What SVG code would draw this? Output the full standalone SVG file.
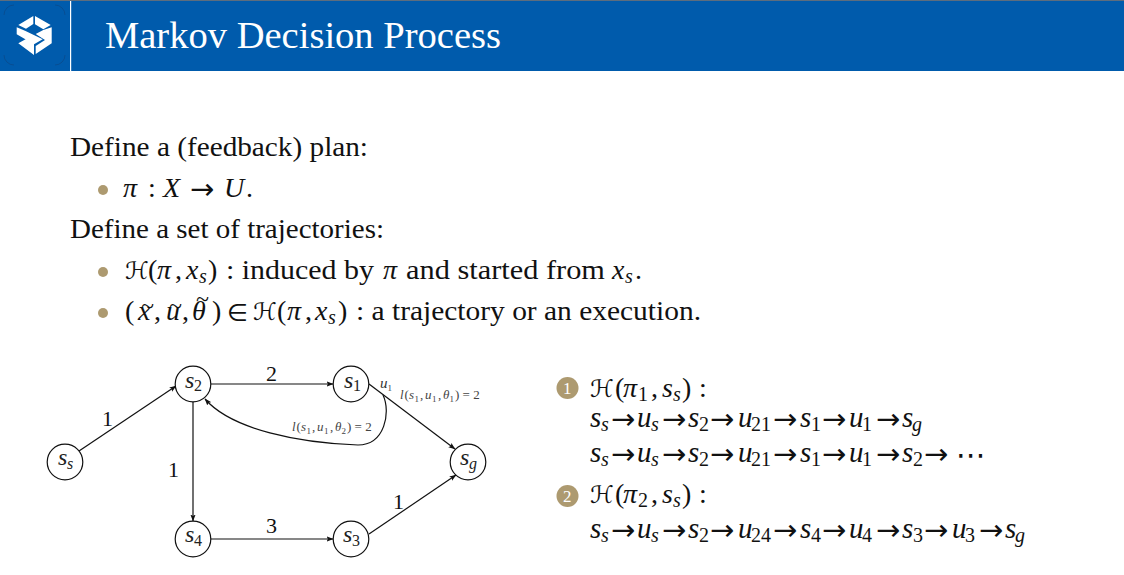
<svg xmlns="http://www.w3.org/2000/svg" width="1124" height="575" viewBox="0 0 1124 575">
<style>
text{font-family:"Liberation Serif","DejaVu Serif",serif;fill:#111}
.b{font-size:28px}
.m{font-size:28px;font-style:italic}
.r{font-size:28px}
.sb{font-size:20px;font-style:italic}
.sn{font-size:20px}
.c{font-family:"DejaVu Sans","Liberation Serif",sans-serif;font-size:24px}
.q{font-size:29px;font-style:italic}
.a{font-family:"DejaVu Sans",sans-serif;font-size:29px;fill:#111}
.dots{font-family:"DejaVu Sans",sans-serif;font-size:30px}
.til{font-size:24px}
.n{font-size:24px;font-style:italic;fill:#222}
.ns{font-size:16px;font-style:italic;fill:#222}
.nn{font-size:16px;fill:#222}
.w{font-size:22px}
.l{font-size:13px;fill:#444}
.li{font-size:13px;font-style:italic;fill:#444}
.ls{font-size:9px;fill:#444}
.node{fill:#fff;stroke:#111;stroke-width:1.2}
.edge{fill:none;stroke:#111;stroke-width:1.2;marker-end:url(#ah)}
.bul{fill:#ad9a70}
</style>
<defs>
<marker id="ah" markerWidth="8" markerHeight="6" refX="6.5" refY="3" orient="auto" markerUnits="userSpaceOnUse"><path d="M0 0.4L7 3L0 5.6L1.4 3Z" fill="#111"/></marker>
</defs>
<rect width="1124" height="575" fill="#fff"/>
<g id="header">
<rect width="1124" height="71" fill="#005bac"/>
<rect width="1124" height="1" fill="#5d6d7e"/>
<rect x="70" y="1" width="1.2" height="70" fill="#fff"/>
<path d="M4 15A10 10 0 0 1 14 5M55 5A10 10 0 0 1 65 15M65 55A10 10 0 0 1 55 65M14 65A10 10 0 0 1 4 55" fill="none" stroke="#0a4a8c" stroke-width="0.8"/>
<path fill="#fff" d="M33.300 16V24L26 28.700L18.300 25ZM35 16L50.700 25L43.300 29.300L35 24.300ZM16.700 27.300L25 30.700L42.700 39.300L34 44.300L16.700 34.300ZM51.700 27.300V43.300L35.700 54V46L45 40L35.700 34L43.300 30ZM18.300 43.300L26 39L34 44.300V55Z"/>
<text x="105" y="47.500" style="font-size:37px;fill:#fff" textLength="396" lengthAdjust="spacingAndGlyphs">Markov Decision Process</text>
</g>
<g id="body">
<text class="b" x="70" y="156" textLength="298" lengthAdjust="spacingAndGlyphs">Define a (feedback) plan:</text>
<circle class="bul" cx="103" cy="190" r="5"/>
<text class="m" x="123" y="197">π</text><text class="r" x="148" y="197">:</text><text class="m" x="163" y="197">X</text><text class="a" x="190" y="198.500">→</text><text class="m" x="224" y="197">U</text><text class="r" x="246" y="197">.</text>
<text class="b" x="70" y="238" textLength="314" lengthAdjust="spacingAndGlyphs">Define a set of trajectories:</text>
<circle class="bul" cx="103" cy="272" r="5"/>
<text class="c" x="125" y="279">ℋ</text>
<text class="r" x="148" y="279">(</text>
<text class="m" x="157" y="279">π</text>
<text class="r" x="175" y="279">,</text>
<text class="m" x="186" y="279">x</text>
<text class="sb" x="199" y="283">s</text>
<text class="r" x="208" y="279">)</text>
<text class="b" x="226" y="279" textLength="148" lengthAdjust="spacingAndGlyphs">: induced by</text>
<text class="m" x="383" y="279">π</text>
<text class="b" x="406" y="279" textLength="199" lengthAdjust="spacingAndGlyphs">and started from</text>
<text class="m" x="612" y="279">x</text>
<text class="sb" x="625" y="283">s</text>
<text class="r" x="635" y="279">.</text>
<circle class="bul" cx="103" cy="313" r="5"/>
<text class="r" x="125" y="320">(</text>
<text class="m" x="138" y="320">x</text><text class="til" x="141" y="314">~</text>
<text class="r" x="154" y="320">,</text>
<text class="m" x="166" y="320">u</text><text class="til" x="169" y="314">~</text>
<text class="r" x="182" y="320">,</text>
<text class="m" x="192" y="320">θ</text><text class="til" x="196" y="307">~</text>
<text class="r" x="212" y="320">)</text>
<text class="a" x="227" y="321" style="font-size:24px">∈</text>
<text class="c" x="253" y="320">ℋ</text>
<text class="r" x="277" y="320">(</text>
<text class="m" x="287" y="320">π</text>
<text class="r" x="305" y="320">,</text>
<text class="m" x="315" y="320">x</text>
<text class="sb" x="328" y="324">s</text>
<text class="r" x="338" y="320">)</text>
<text class="b" x="356" y="320" textLength="345" lengthAdjust="spacingAndGlyphs">: a trajectory or an execution.</text>
</g>
<g id="connectors">
<path class="edge" d="M79 451L176 386"/>
<path class="edge" d="M211 384H333"/>
<path class="edge" d="M369 384L455 449"/>
<path class="edge" d="M193 402V521"/>
<path class="edge" d="M211 539H333"/>
<path class="edge" d="M369 534L456 475"/>
<path class="edge" d="M383 395C391 412 385 445 358 445C300 443 232 430 205 399"/>
<text class="w" x="102" y="426">1</text>
<text class="w" x="266" y="381">2</text>
<text class="w" x="168" y="477">1</text>
<text class="w" x="266" y="533">3</text>
<text class="w" x="393" y="509">1</text>
<text x="380" y="388" style="font-size:15px;font-style:italic;fill:#333">u</text>
<text class="ls" x="387.500" y="390.500">1</text>
<text class="li" x="400" y="399">l</text><text class="l" x="404.500" y="399">(</text><text class="li" x="409" y="399">s</text><text class="ls" x="414.500" y="401.500">1</text><text class="l" x="420" y="399">,</text><text class="li" x="425" y="399">u</text><text class="ls" x="432" y="401.500">1</text><text class="l" x="438" y="399">,</text><text class="li" x="443" y="399">θ</text><text class="ls" x="449.500" y="401.500">1</text><text class="l" x="455" y="399">) = 2</text>
<text class="li" x="292" y="431">l</text><text class="l" x="296.500" y="431">(</text><text class="li" x="301" y="431">s</text><text class="ls" x="306.500" y="433.500">1</text><text class="l" x="312" y="431">,</text><text class="li" x="317" y="431">u</text><text class="ls" x="324" y="433.500">1</text><text class="l" x="330" y="431">,</text><text class="li" x="335" y="431">θ</text><text class="ls" x="341.500" y="433.500">2</text><text class="l" x="347" y="431">) = 2</text>
</g>
<g id="node-ss"><circle class="node" cx="65" cy="462" r="17.800"/><text class="n" x="58" y="465">s</text><text class="ns" x="67" y="469">s</text></g>
<g id="node-s2"><circle class="node" cx="193" cy="384" r="17.800"/><text class="n" x="185" y="388">s</text><text class="nn" x="194" y="391">2</text></g>
<g id="node-s1"><circle class="node" cx="351" cy="384" r="17.800"/><text class="n" x="344" y="388">s</text><text class="nn" x="353" y="391">1</text></g>
<g id="node-sg"><circle class="node" cx="468" cy="462" r="17.800"/><text class="n" x="460" y="465">s</text><text class="ns" x="469" y="469">g</text></g>
<g id="node-s4"><circle class="node" cx="193" cy="539" r="17.800"/><text class="n" x="185" y="542">s</text><text class="nn" x="194" y="546">4</text></g>
<g id="node-s3"><circle class="node" cx="351" cy="539" r="17.800"/><text class="n" x="343" y="542">s</text><text class="nn" x="352" y="546">3</text></g>
<g id="paths">
<circle class="bul" cx="567.500" cy="388" r="11"/><text x="563" y="394" style="font-size:17px;fill:#fff">1</text>
<text class="c" x="590" y="397">ℋ</text><text class="r" x="615" y="397">(</text><text class="m" x="623" y="397">π</text><text class="sn" x="638" y="401">1</text><text class="r" x="651" y="397">,</text><text class="m" x="662" y="397">s</text><text class="sb" x="673" y="401">s</text><text class="r" x="682" y="397">)</text><text class="r" x="699" y="397">:</text>

<text class="q" x="590" y="427">s</text><text class="sb" x="601" y="431">s</text><text class="a" x="611" y="429">→</text><text class="q" x="637" y="427">u</text><text class="sb" x="651" y="431">s</text><text class="a" x="662" y="429">→</text><text class="q" x="688" y="427">s</text><text class="sn" x="699" y="431">2</text><text class="a" x="710" y="429">→</text><text class="q" x="738" y="427">u</text><text class="sn" x="751" y="431">21</text><text class="a" x="773" y="429">→</text><text class="q" x="800" y="427">s</text><text class="sn" x="811" y="431">1</text><text class="a" x="822" y="429">→</text><text class="q" x="849" y="427">u</text><text class="sn" x="862" y="431">1</text><text class="a" x="876" y="429">→</text><text class="q" x="902" y="427">s</text><text class="sb" x="912" y="431">g</text>

<text class="q" x="590" y="462">s</text><text class="sb" x="601" y="466">s</text><text class="a" x="611" y="464">→</text><text class="q" x="637" y="462">u</text><text class="sb" x="651" y="466">s</text><text class="a" x="662" y="464">→</text><text class="q" x="688" y="462">s</text><text class="sn" x="699" y="466">2</text><text class="a" x="710" y="464">→</text><text class="q" x="738" y="462">u</text><text class="sn" x="751" y="466">21</text><text class="a" x="773" y="464">→</text><text class="q" x="800" y="462">s</text><text class="sn" x="811" y="466">1</text><text class="a" x="822" y="464">→</text><text class="q" x="849" y="462">u</text><text class="sn" x="862" y="466">1</text><text class="a" x="876" y="464">→</text><text class="q" x="902" y="462">s</text><text class="sn" x="913" y="466">2</text><text class="a" x="924" y="464">→</text><text class="dots" x="956" y="465">⋯</text>

<circle class="bul" cx="567.500" cy="496" r="11"/><text x="563" y="502" style="font-size:17px;fill:#fff">2</text>
<text class="c" x="590" y="503">ℋ</text><text class="r" x="615" y="503">(</text><text class="m" x="623" y="503">π</text><text class="sn" x="638" y="507">2</text><text class="r" x="651" y="503">,</text><text class="m" x="662" y="503">s</text><text class="sb" x="673" y="507">s</text><text class="r" x="682" y="503">)</text><text class="r" x="699" y="503">:</text>

<text class="q" x="590" y="538">s</text><text class="sb" x="601" y="542">s</text><text class="a" x="611" y="540">→</text><text class="q" x="637" y="538">u</text><text class="sb" x="651" y="542">s</text><text class="a" x="662" y="540">→</text><text class="q" x="688" y="538">s</text><text class="sn" x="699" y="542">2</text><text class="a" x="710" y="540">→</text><text class="q" x="738" y="538">u</text><text class="sn" x="751" y="542">24</text><text class="a" x="773" y="540">→</text><text class="q" x="800" y="538">s</text><text class="sn" x="811" y="542">4</text><text class="a" x="822" y="540">→</text><text class="q" x="849" y="538">u</text><text class="sn" x="862" y="542">4</text><text class="a" x="876" y="540">→</text><text class="q" x="902" y="538">s</text><text class="sn" x="913" y="542">3</text><text class="a" x="924" y="540">→</text><text class="q" x="952" y="538">u</text><text class="sn" x="965" y="542">3</text><text class="a" x="979" y="540">→</text><text class="q" x="1005" y="538">s</text><text class="sb" x="1015" y="542">g</text>
</g>
</svg>
